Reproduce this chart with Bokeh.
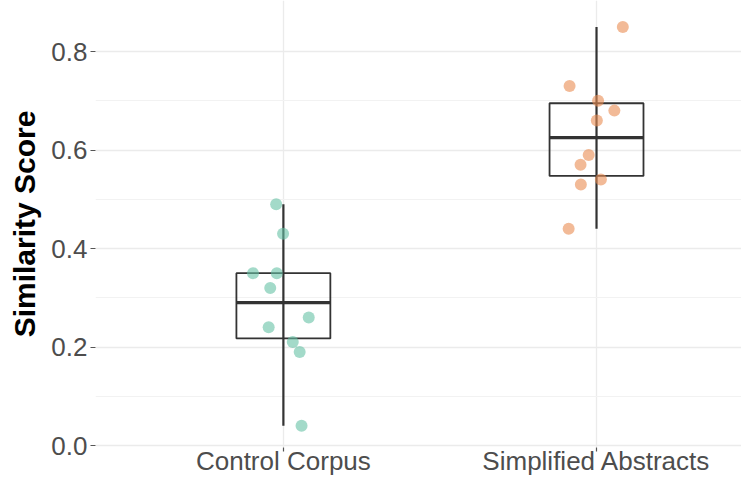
from bokeh.plotting import figure
from bokeh.models import Range1d, FixedTicker, ColumnDataSource
from bokeh.embed import file_html
from bokeh.resources import INLINE

# ---- data ----
groups = ["Control Corpus", "Simplified Abstracts"]
control_scores = [0.49, 0.43, 0.35, 0.35, 0.32, 0.26, 0.24, 0.21, 0.19, 0.04]
control_jitter = [-0.023, -0.001, -0.097, -0.021, -0.042, 0.081, -0.047, 0.030, 0.052, 0.058]
simplified_scores = [0.85, 0.73, 0.70, 0.68, 0.66, 0.59, 0.57, 0.54, 0.53, 0.44]
simplified_jitter = [0.084, -0.086, 0.005, 0.057, 0.001, -0.025, -0.051, 0.014, -0.050, -0.089]
y_ticks = [0.0, 0.2, 0.4, 0.6, 0.8]
y_minor = [0.1, 0.3, 0.5, 0.7]
point_colors = ["#66c2a5", "#e98c52"]


def quantile(vals, q):
    s = sorted(vals)
    pos = q * (len(s) - 1)
    lo = int(pos)
    hi = min(lo + 1, len(s) - 1)
    return s[lo] + (pos - lo) * (s[hi] - s[lo])


def box_stats(vals):
    q1 = quantile(vals, 0.25)
    med = quantile(vals, 0.5)
    q3 = quantile(vals, 0.75)
    iqr = q3 - q1
    lo = min(v for v in vals if v >= q1 - 1.5 * iqr)
    hi = max(v for v in vals if v <= q3 + 1.5 * iqr)
    return q1, med, q3, lo, hi


all_scores = [control_scores, simplified_scores]
all_jitter = [control_jitter, simplified_jitter]

xs = [i + 1 for i in range(len(groups))]
stats = [box_stats(v) for v in all_scores]
half_w = 0.15

box_src = ColumnDataSource(dict(
    x=xs,
    q1=[s[0] for s in stats],
    med=[s[1] for s in stats],
    q3=[s[2] for s in stats],
    lo=[s[3] for s in stats],
    hi=[s[4] for s in stats],
    x0=[x - half_w for x in xs],
    x1=[x + half_w for x in xs],
))

p = figure(width=741, height=478, output_backend="svg", toolbar_location=None,
           x_range=Range1d(0.4, 2.463), y_range=Range1d(-0.004, 0.9036),
           min_border_left=95, min_border_right=0, min_border_top=0, min_border_bottom=31)
p.outline_line_color = None
p.background_fill_color = "white"
p.border_fill_color = "white"

# grids
p.xgrid.ticker = FixedTicker(ticks=xs)
p.xgrid.grid_line_color = "#ebebeb"
p.xgrid.grid_line_width = 1.3
p.ygrid.ticker = FixedTicker(ticks=y_ticks, minor_ticks=y_minor)
p.ygrid.grid_line_color = "#ebebeb"
p.ygrid.grid_line_width = 1.3
p.ygrid.minor_grid_line_color = "#f2f2f2"
p.ygrid.minor_grid_line_width = 1.0

# axes
p.xaxis.ticker = FixedTicker(ticks=xs)
p.xaxis.major_label_overrides = {x: g for x, g in zip(xs, groups)}
p.yaxis.ticker = FixedTicker(ticks=y_ticks)
p.yaxis.major_label_overrides = {t: f"{t:.1f}" for t in y_ticks}
for ax in (p.xaxis[0], p.yaxis[0]):
    ax.axis_line_color = None
    ax.major_tick_line_color = "#555555"
    ax.major_tick_line_width = 1.2
    ax.minor_tick_line_color = None
    ax.major_tick_in = 0
    ax.major_label_text_font = "Liberation Sans"
    ax.major_label_text_font_size = "26px"
    ax.major_label_text_color = "#4d4d4d"
p.xaxis.major_tick_out = 4
p.xaxis.major_label_standoff = -6
p.yaxis.major_tick_out = 5
p.yaxis.major_label_standoff = 3
p.yaxis.axis_label = "Similarity Score"
p.yaxis.axis_label_text_font = "Liberation Sans"
p.yaxis.axis_label_text_font_style = "bold"
p.yaxis.axis_label_text_font_size = "30px"
p.yaxis.axis_label_text_color = "black"
p.yaxis.axis_label_standoff = 7

# boxes
p.segment(x0="x", y0="lo", x1="x", y1="hi", source=box_src,
          line_color="#333333", line_width=2.2)
p.quad(left="x0", right="x1", bottom="q1", top="q3", source=box_src,
       fill_color=None, line_color="#333333", line_width=1.8)
p.segment(x0="x0", y0="med", x1="x1", y1="med", source=box_src,
          line_color="#333333", line_width=3.2)

# points
for i, (vals, jit) in enumerate(zip(all_scores, all_jitter)):
    px = [xs[i] + j for j in jit]
    p.scatter(px, vals, size=12, fill_color=point_colors[i], fill_alpha=0.6,
              line_color=None)

open("out.html", "w").write(file_html(p, INLINE))
